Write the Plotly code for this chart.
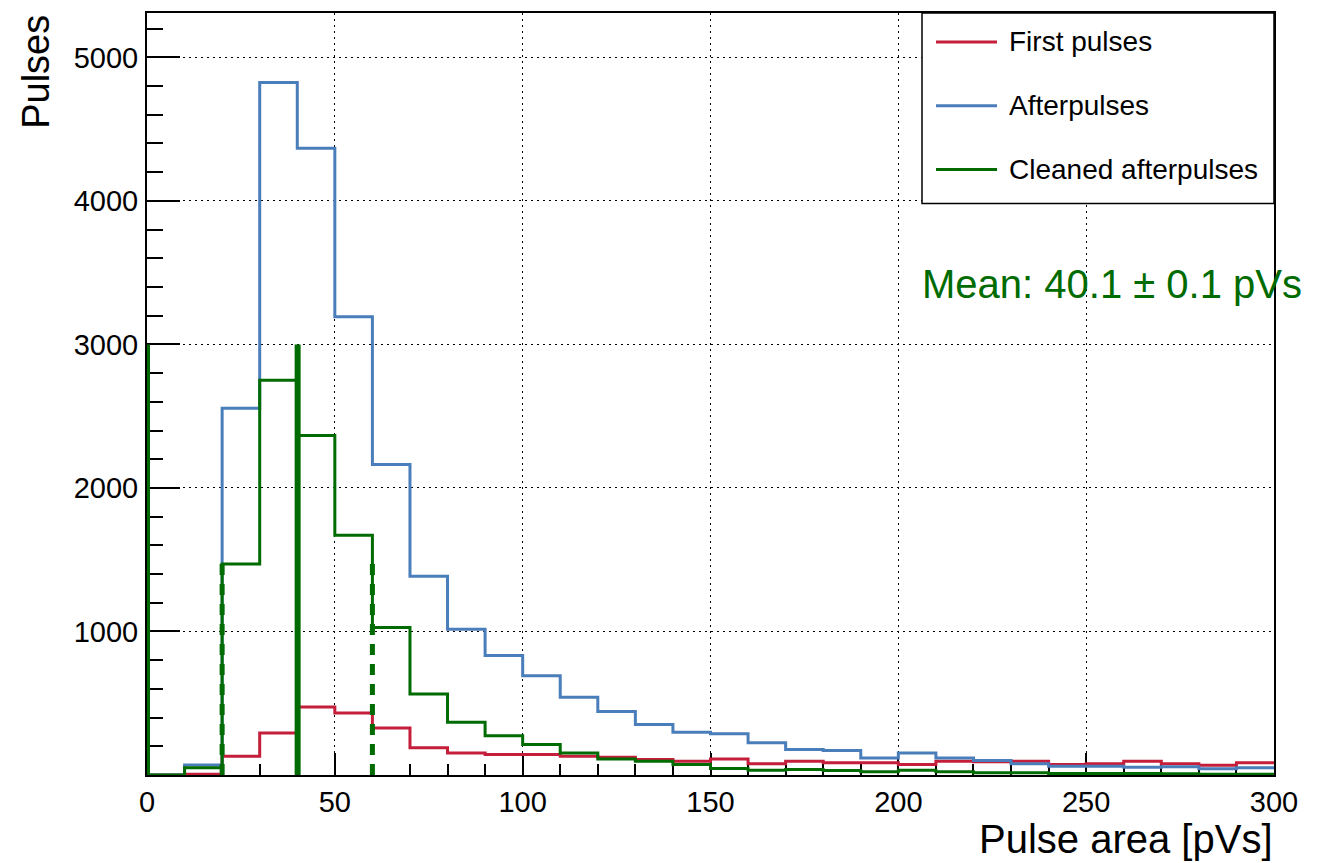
import plotly.graph_objects as go

# Histogram binning (pVs)
bin_edges = list(range(0, 310, 10))

first_pulses = [0, 5, 131, 293, 473, 432, 328, 189, 154, 142,
                142, 131, 124, 108, 96, 112, 78, 96, 85, 85,
                73, 96, 92, 96, 73, 78, 96, 78, 68, 85]
afterpulses = [0, 70, 2555, 4825, 4367, 3193, 2163, 1385, 1015, 832,
               692, 541, 443, 351, 297, 288, 224, 177, 170, 119,
               154, 119, 101, 78, 61, 61, 54, 57, 43, 50]
cleaned_afterpulses = [0, 50, 1470, 2751, 2365, 1670, 1027, 564, 367, 274,
                       212, 154, 112, 96, 73, 45, 33, 38, 31, 22,
                       33, 22, 15, 15, 10, 10, 10, 8, 6, 6]

series_names = ["First pulses", "Afterpulses", "Cleaned afterpulses"]
series_colors = ["#c41e3a", "#4a7ebb", "#006b00"]

# Marker lines: mean and the integration window
mean_value = 40.1
mean_error = 0.1
mean_line_height = 3000
window_edges = [20, 60]
window_line_height = 1470
left_marker_x = 0
left_marker_height = 3000

x_ticks = [0, 50, 100, 150, 200, 250, 300]
y_ticks = [1000, 2000, 3000, 4000, 5000]

# Canvas geometry (pixels)
W, H = 1328, 863
L, R, T, B = 147, 54, 11, 88
PW, PH = W - L - R, H - T - B


def px(x):
    return (x - L) / PW


def py(y):
    return (H - B - y) / PH


FONT = "Liberation Sans, Arial, Helvetica, sans-serif"

fig = go.Figure()

for name, vals, col in zip(series_names,
                           [first_pulses, afterpulses, cleaned_afterpulses],
                           series_colors):
    xs = bin_edges[:-1] + [bin_edges[-1]]
    ys = vals + [vals[-1]]
    fig.add_trace(go.Scatter(x=xs, y=ys, mode="lines", name=name,
                             line=dict(color=col, width=3, shape="hv"),
                             showlegend=False, hoverinfo="skip"))

green = series_colors[2]
fig.add_trace(go.Scatter(x=[left_marker_x, left_marker_x], y=[0, left_marker_height],
                         mode="lines", line=dict(color=green, width=6),
                         showlegend=False, hoverinfo="skip"))
fig.add_trace(go.Scatter(x=[mean_value, mean_value], y=[0, mean_line_height],
                         mode="lines", line=dict(color=green, width=6),
                         showlegend=False, hoverinfo="skip"))
for xe in window_edges:
    fig.add_trace(go.Scatter(x=[xe, xe], y=[0, window_line_height],
                             mode="lines",
                             line=dict(color=green, width=5, dash="11px,9px"),
                             showlegend=False, hoverinfo="skip"))

axis_common = dict(
    showline=True, linecolor="black", linewidth=2, mirror=True,
    ticks="inside", tickcolor="black", tickwidth=2,
    showgrid=True, gridcolor="black", gridwidth=1, griddash="2px,4px",
    zeroline=False, layer="below traces",
    tickfont=dict(family=FONT, size=29, color="black"),
)

fig.update_xaxes(range=[0, 300], tickvals=x_ticks, ticklen=22,
                 minor=dict(ticks="inside", ticklen=11, dtick=10, tick0=0,
                            tickcolor="black", tickwidth=2, showgrid=False),
                 ticklabelstandoff=0,
                 **axis_common)
fig.update_yaxes(range=[0, 5309], tickvals=y_ticks, ticklen=33,
                 minor=dict(ticks="inside", ticklen=16, dtick=200, tick0=0,
                            tickcolor="black", tickwidth=2, showgrid=False),
                 ticklabelstandoff=1,
                 **axis_common)

shapes = []
annotations = []

# Legend box
shapes.append(dict(type="rect", xref="paper", yref="paper",
                   x0=px(922), x1=px(1274), y0=py(202), y1=py(11),
                   line=dict(color="black", width=1.5), fillcolor="white", layer="above"))
for i, (name, col) in enumerate(zip(series_names, series_colors)):
    yl = 40 + 64 * i
    shapes.append(dict(type="line", xref="paper", yref="paper",
                       x0=px(936), x1=px(997), y0=py(yl), y1=py(yl),
                       line=dict(color=col, width=3), layer="above"))
    annotations.append(dict(xref="paper", yref="paper", x=px(1007), y=py(yl),
                            xanchor="left", yanchor="middle", showarrow=False,
                            text=name, font=dict(family=FONT, size=28, color="black")))

# Mean label
annotations.append(dict(xref="paper", yref="paper", x=px(920), y=py(283),
                        xanchor="left", yanchor="middle", showarrow=False,
                        text=f"Mean: {mean_value:.1f} \u00b1 {mean_error:.1f} pVs",
                        font=dict(family=FONT, size=40, color=green)))

# Axis titles
annotations.append(dict(xref="paper", yref="paper", x=px(1275), y=py(839),
                        xanchor="right", yanchor="middle", showarrow=False,
                        text="Pulse area [pVs]",
                        font=dict(family=FONT, size=40, color="black")))
annotations.append(dict(xref="paper", yref="paper", x=px(36), y=py(70),
                        xanchor="center", yanchor="middle", showarrow=False,
                        textangle=-90, text="Pulses",
                        font=dict(family=FONT, size=38, color="black")))

fig.update_layout(
    width=W, height=H,
    margin=dict(l=L, r=R, t=T, b=B, pad=0),
    paper_bgcolor="white", plot_bgcolor="white",
    showlegend=False,
    shapes=shapes, annotations=annotations,
)

fig.write_html("out.html")
